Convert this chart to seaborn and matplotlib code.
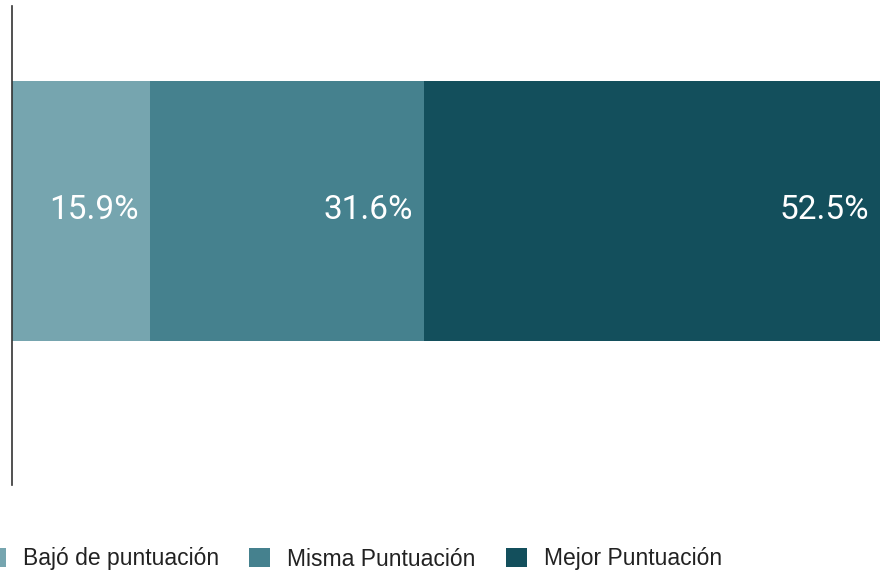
import matplotlib
matplotlib.use("Agg")
import matplotlib.pyplot as plt
from matplotlib.patches import Patch
import seaborn as sns
import pandas as pd
import numpy as np

categories = ["Bajó de puntuación", "Misma Puntuación", "Mejor Puntuación"]
values = [15.9, 31.6, 52.5]
labels = ["15.9%", "31.6%", "52.5%"]
colors = ["#76a5af", "#45818e", "#134f5c"]

sns.set_theme(style="white")
plt.rcParams["font.family"] = ["Liberation Sans", "DejaVu Sans"]

fig = plt.figure(figsize=(8.8, 5.74), dpi=100)
ax = fig.add_axes([12 / 880, 1 - 485 / 574, 1 - 12 / 880, (485 - 6) / 574])

cum = np.cumsum(values)
# draw stacked bars from the widest (cumulative) down to the narrowest
for i in range(len(values) - 1, -1, -1):
    df = pd.DataFrame({"grupo": ["total"], "valor": [cum[i]]})
    sns.barplot(data=df, x="valor", y="grupo", orient="h", color=colors[i],
                saturation=1, linewidth=0, width=0.8, ax=ax, errorbar=None)

for i in range(len(values)):
    ax.annotate(labels[i], xy=(cum[i], 0), xytext=(-8, 1), textcoords="offset points",
                ha="right", va="center", color="white", fontsize=24,
                family=["Roboto", "DejaVu Sans"])

ax.set_xlim(0, 100)
ax.set_ylim(0.843, -0.631)
ax.set_xlabel("")
ax.set_ylabel("")
ax.set_xticks([])
ax.set_yticks([])
for s in ["top", "right", "bottom"]:
    ax.spines[s].set_visible(False)
ax.spines["left"].set_color("#333333")
ax.spines["left"].set_linewidth(1.2)

handles = [Patch(facecolor=c, edgecolor="none") for c in colors]
fig.legend(handles, categories, loc="center left",
           bbox_to_anchor=(-15 / 880, 1 - 559 / 574), ncol=3, frameon=False,
           fontsize=16.5, handlelength=0.92, handleheight=0.92, handletextpad=0.75,
           columnspacing=1.3, borderpad=0, borderaxespad=0,
           labelcolor="#222222")

fig.savefig("out.png", dpi=100)
